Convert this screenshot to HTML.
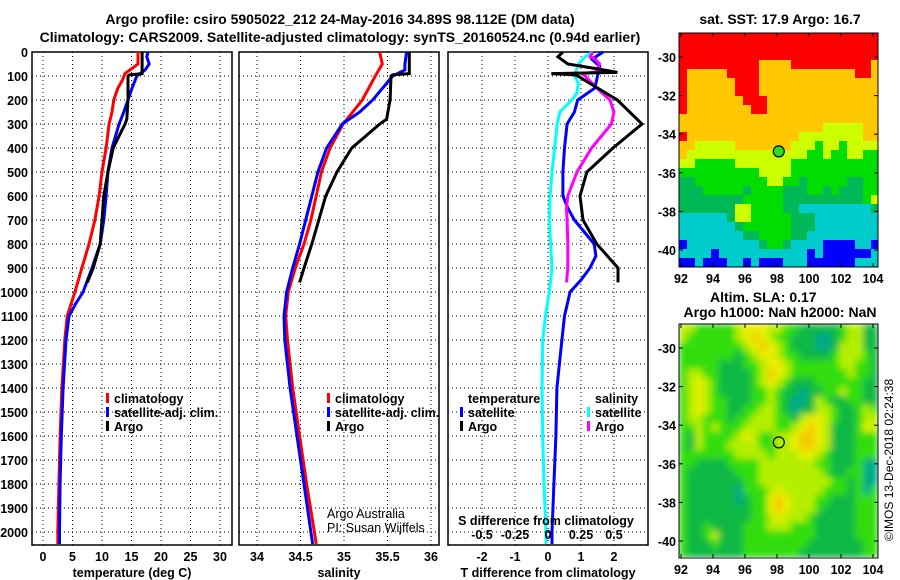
<!DOCTYPE html>
<html><head><meta charset="utf-8"><style>
body{margin:0;background:#fff}
svg{display:block;font-family:"Liberation Sans",sans-serif}
.b{font-weight:bold;font-size:12.5px}
.n{font-weight:normal;font-size:12.5px}
.t{font-weight:bold;font-size:14px}
</style></head><body>
<svg id="c" width="900" height="580" viewBox="0 0 900 580">
<text class="t" x="340" y="24" text-anchor="middle">Argo profile: csiro 5905022_212 24-May-2016 34.89S 98.112E (DM data)</text>
<text class="t" x="340" y="42" text-anchor="middle">Climatology: CARS2009. Satellite-adjusted climatology: synTS_20160524.nc (0.94d earlier)</text>
<text class="t" x="780" y="24" text-anchor="middle">sat. SST: 17.9 Argo: 16.7</text>
<text class="t" x="710" y="302">Altim. SLA: 0.17</text>
<text class="t" x="780" y="317" text-anchor="middle">Argo h1000: NaN h2000: NaN</text>
<text x="893" y="460" font-size="12" text-anchor="middle" transform="rotate(-90 893 460)">©IMOS 13-Dec-2018 02:24:38</text>
<defs><filter id="bl" x="0" y="0" width="1" height="1"><feGaussianBlur stdDeviation="3.5"/></filter>
<clipPath id="cp2"><rect x="679" y="324" width="199" height="233"/></clipPath></defs>
</svg>
<script>
// depth axis
const depthTicks=[0,100,200,300,400,500,600,700,800,900,1000,1100,1200,1300,1400,1500,1600,1700,1800,1900,2000];
// temperature panel
const tDepth=[0,50,90,120,150,200,250,300,400,500,600,700,800,900,1000,1100,1200,1400,1600,1800,2000,2050];
const tClim=[16.1,16.1,13.9,13.4,12.7,12,11.7,11.2,10.7,10,9.5,8.8,7.8,6.6,5.4,4.1,3.7,3.2,2.9,2.7,2.5,2.5];
const tSatDepth=[0,20,50,75,100,150,200,250,300,400,500,600,700,800,900,1000,1050,1100,1200,1400,1600,1800,2000,2050];
const tSat=[17.8,17.6,18,17.3,15.9,15.1,14.4,13.7,12.9,11.7,11,10.7,10.3,9.7,8.3,6.8,5.5,4.4,3.9,3.4,3.1,2.9,2.8,2.8];
const argoDepth=[0,90,95,100,200,280,300,350,400,500,600,700,800,900,960];
const tArgo=[16.8,16.8,14.7,14.4,14.4,14.2,13.9,12.9,11.9,11,10.3,10,9.7,8.5,7.5];
const tTicks=[0,5,10,15,20,25,30];
// salinity panel
const sDepth=[0,50,100,200,300,400,500,600,700,800,900,1000,1100,1200,1400,1600,1800,2000,2050];
const sClim=[35.41,35.44,35.36,35.21,34.99,34.84,34.74,34.68,34.62,34.54,34.44,34.36,34.33,34.35,34.41,34.49,34.57,34.66,34.68];
const sSatDepth=[0,50,75,100,200,250,300,400,500,600,700,800,900,1000,1100,1200,1400,1600,1800,2000,2050];
const sSat=[35.72,35.7,35.7,35.56,35.33,35.18,34.98,34.8,34.7,34.63,34.56,34.49,34.41,34.34,34.31,34.32,34.38,34.46,34.54,34.62,34.64];
const sArgo=[35.75,35.75,35.56,35.54,35.53,35.49,35.41,35.25,35.09,34.92,34.79,34.71,34.63,34.54,34.49];
const sTicks=[34,34.5,35,35.5,36];
// difference panel
const dTSatDepth=[0,30,60,100,150,200,250,300,400,500,600,650,700,800,850,900,950,1000,1100,1200,1400,1600,1800,2000,2050];
const dTSat=[1.67,1.33,1.57,1.5,1.42,0.9,0.8,0.58,0.5,0.45,0.45,0.6,0.8,1.4,1.45,1.27,1.0,0.67,0.5,0.42,0.27,0.24,0.18,0.12,0.12];
const dTArgoDepth=[0,20,50,75,85,90,95,100,150,200,300,400,500,600,700,800,900,960];
const dTArgo=[0.45,0.3,0.6,1.7,2.1,0.1,0.8,0.9,1.5,2.1,2.85,1.97,1.18,0.97,1.06,1.48,2.12,2.12];
const dSSatDepth=[0,20,50,100,130,170,200,250,300,400,500,600,700,800,900,1000,1100,1200,1400,1600,1800,2000,2050];
const dSSat=[0.34,0.28,0.23,0.2,0.23,0.22,0.18,0.09,0.07,0.05,0.03,0.015,0.01,0.02,0.03,0.01,-0.02,-0.04,-0.045,-0.04,-0.03,-0.015,-0.015];
const dSArgoDepth=[0,20,30,50,75,80,90,100,150,200,250,300,400,500,600,650,700,800,900,960];
const dSArgo=[0.34,0.32,0.36,0.39,0.37,0.41,0.26,0.28,0.37,0.47,0.5,0.48,0.33,0.22,0.15,0.14,0.145,0.15,0.15,0.14];
const dTTicks=[-2,-1,0,1,2];
const dSTicks=[-0.5,-0.25,0,0.25,0.5];
const dSTickLabels=['-0.5','-0.25','0','0.25','0.5'];
// maps
const latTicks=[-30,-32,-34,-36,-38,-40];
const lonTicks=[92,94,96,98,100,102,104];
const argoLon=98.112, argoLat=-34.89;
const sstRows=[
"RRRRRRRRRRRRRRRRRRRRRRRRR","RRRRRRRRRRRRRRRRRRRRRRRRR","RRRRRRRRRRRRRRRRRRRRRRRRR",
"RRRRRRRRRROOOORRRRRRRRRRO","ROOOOORRRROOOOOOOOOOOORRO","ROOOOOORRROOOOOOOOOOOOOOO",
"ROOOOOORRROOOOOOOOOOOOOOO","ROOOOOOORRROOOOOOOOOOOOOO","ROOOOOOOORROOOOOOOOOOOOOO",
"OOOOOOOOOOOOOOOOOOOOOOOOO","OOOOOOOOOOOOOOOOOOYYYYYOO","ROOOOOOOOOOOOOOYYYYYYYYOO",
"OOYYYYYOOOOOOOYYYGYYGYYYY","OYYYYYYYYYYYYYYYGGYGGYYGG","YYGGGGGYYYYYYYGGGGGGGGGGG",
"GGGGGGGGGGYYYYGGGGGGGGGGG","DDGGGGGGGGGYYGGDGGGGGDDGG","DDDGGGGGDGGGGDDDGGDGDDDGG",
"DDDDDDDDGGGGGDDDDDDDDDDGY","DDDDDDDYYGGGGDDCCCCCCCCCD","CCCCCCDYYGGGGGDDDCCCCCCCC",
"CCCCCCCDGGGGGGDDDCCCCCCCC","CCCCCCCCDDGGGGDDCCCCCCCCC","BCCCCCCCCCDGGDCCCCBBBBCCB",
"CCCCBCCCCCCCCCCCBCBBBBBBC","BBCBBBCCBCBBBCCCBBBBBBCCC"];
const slaRows=[
"LLGGGGGLYYYLLGGDDDDDGLLDD","LGGGGGGLYOYLGGDDDTTDGLLDD","GGGGGGGGLYOYLGDDDTTDLLLDD",
"GGGGGGGDGLYYLGGDDDDGLLLGD","GGGGGDDDGGLYYLGGGGGGLLGGD","GLLGGDDDDGLOYLGGGGGGGLGGD",
"GLYLGDDDDGLYLGDDDGGGGGGDD","GLYLGDDDDGGLGDDTDDGGLGGDD","GLYLGGDDDGGLGDTTDLGDDGGDD",
"GLYLGGDDGGLLGDTDDLLGDDGLG","GLLGGGDGGLLLGGDLYYLGDDGLL","GGLGLGGGLLLLGGLYOYLDDDGYL",
"GDLGGGGLYLGGLLYOOYLDDDGGG","GDLGGGLLLLGGLLYOOYLDDDGGG","GGGGGGGLLLLGLLLYYLGDDDGGG",
"GGDDDDGGGGLLLLLLLGGDDDGTT","GDDDDDDGGGLLLLLLLLGDDGGTT","GDDDDDDDGGLLLLLLLLLGGDGTT",
"GDDDDDDTGGGLYLLLLLGGGDGTG","GDDDDDDTDGGYOYLLLGGDDDGGG","GDDDDDDDDGGYOYLLLGDDDDGGG",
"GDDDDDDDDGGLYLLLGDDDDDGGG","GDDGDDDDGGGLLLGGGDDDDDGGG","GDDGLDDDGGGGGGGGGDDDDDGGG",
"GDDDGDDDGGGGGGGGDDDDDDDGG","GDDDDDDDGGGGGGGDDDDDDDDGG"];

const svg=document.getElementById('c');
const NS='http://www.w3.org/2000/svg';
function mk(tag,at,parent){const e=document.createElementNS(NS,tag);for(const k in at)e.setAttribute(k,at[k]);(parent||svg).appendChild(e);return e;}
const Y0=52,DY=0.24;
const yD=d=>Y0+DY*d;
const PB=545;
const panels=[
 {x0:32,x1:232,sx:v=>43+5.9*v,ticks:tTicks,labels:tTicks.map(String),title:'temperature (deg C)',name:'temperature-panel'},
 {x0:239,x1:439,sx:v=>257+87*(v-34),ticks:sTicks,labels:sTicks.map(String),title:'salinity',name:'salinity-panel'},
 {x0:448,x1:648,sx:v=>548+33*v,ticks:dTTicks,labels:dTTicks.map(String),title:'T difference from climatology',name:'difference-panel'}];
panels.forEach((p,pi)=>{
  const g=mk('g',{});
  
  
  mk('rect',{x:p.x0,y:Y0,width:p.x1-p.x0,height:PB-Y0,fill:'#fff'},g);
  depthTicks.forEach(d=>{
    const l=mk('line',{x1:p.x0,x2:p.x1,y1:yD(d),y2:yD(d),stroke:'#000','stroke-width':1,'stroke-dasharray':'1,3'},g);
    
    
    if(pi===0){const t=mk('text',{x:28,y:yD(d)+5,'text-anchor':'end',class:'b'},g);t.textContent=d;
      
      }
  });
  p.ticks.forEach((v,i)=>{
    const x=p.sx(v);
    mk('line',{x1:x,x2:x,y1:Y0,y2:PB,stroke:'#000','stroke-width':1,'stroke-dasharray':'1,3'},g);
    const t=mk('text',{x:x,y:561,'text-anchor':'middle',class:'b'},g);t.textContent=p.labels[i];
    
    
  });
  mk('rect',{x:p.x0,y:Y0,width:p.x1-p.x0,height:PB-Y0,fill:'none',stroke:'#000','stroke-width':1.5},g);
  const tt=mk('text',{x:(p.x0+p.x1)/2,y:577,'text-anchor':'middle',class:'b'},g);tt.textContent=p.title;
  
  
});
function line(ds,vs,sx,color,name){
  const pts=ds.map((d,i)=>sx(vs[i]).toFixed(1)+','+yD(d).toFixed(1)).join(' ');
  const e=mk('polyline',{points:pts,fill:'none',stroke:color,'stroke-width':3,'stroke-linejoin':'miter'});
  
  
}
const P=panels;
line(tDepth,tClim,P[0].sx,'#ff0000','temp-climatology-line');
line(tSatDepth,tSat,P[0].sx,'#0000ff','temp-satellite-line');
line(argoDepth,tArgo,P[0].sx,'#000','temp-argo-line');
line(sDepth,sClim,P[1].sx,'#ff0000','sal-climatology-line');
line(sSatDepth,sSat,P[1].sx,'#0000ff','sal-satellite-line');
line(argoDepth,sArgo,P[1].sx,'#000','sal-argo-line');
const sxS=v=>548+132*v;
line(dSSatDepth,dSSat,sxS,'#00ffff','dsal-satellite-line');
line(dTSatDepth,dTSat,P[2].sx,'#0000ff','dtemp-satellite-line');
line(dSArgoDepth,dSArgo,sxS,'#ff00ff','dsal-argo-line');
line(dTArgoDepth,dTArgo,P[2].sx,'#000','dtemp-argo-line');
// S tick labels
dSTicks.forEach((v,i)=>{const t=mk('text',{x:sxS(v),y:539,'text-anchor':'middle',class:'b'});t.textContent=dSTickLabels[i];
  
  });
function txt(x,y,s,cls,name,anchor){const t=mk('text',{x:x,y:y,class:cls,'text-anchor':anchor||'start'});t.textContent=s;
  
  return t;}
txt(546,525,'S difference from climatology','b','s-diff-axis-title','middle');
txt(327,518,'Argo Australia','n','credit-line-1');
txt(327,532,'PI: Susan Wijffels','n','credit-line-2');
function leg(x,y,color,label,name){
  const g=mk('g',{});
  
  
  mk('rect',{x:x,y:y-10,width:3,height:10,fill:color},g);
  const t=mk('text',{x:x+8,y:y,class:'b'},g);t.textContent=label;
}
leg(106,403,'#ff0000','climatology','legend-climatology');
leg(106,417,'#0000ff','satellite-adj. clim.','legend-satellite-adj');
leg(106,431,'#000','Argo','legend-argo');
leg(327,403,'#ff0000','climatology','legend-climatology-sal');
leg(327,417,'#0000ff','satellite-adj. clim.','legend-satellite-adj-sal');
leg(327,431,'#000','Argo','legend-argo-sal');
txt(468,403,'temperature','b','legend-temperature-header');
leg(460,417,'#0000ff','satellite','legend-t-satellite');
leg(460,431,'#000','Argo','legend-t-argo');
txt(595,403,'salinity','b','legend-salinity-header');
leg(587,417,'#00ffff','satellite','legend-s-satellite');
leg(587,431,'#ff00ff','Argo','legend-s-argo');

// maps
const MX0=679,MW=199,CW=8,CH=9;
const lonX=lo=>681+16*(lo-92);
const sstCol={R:'#ff0000',O:'#ffc800',Y:'#ccff00',G:'#00dd00',D:'#00b855',C:'#00cccc',B:'#0000ff'};
const slaCol={G:'#33dd11',L:'#b4ee00',Y:'#eaee00',O:'#f2cc00',D:'#11b844',T:'#00aa88'};
function drawMap(y0,rows,cols,name,blur){
  const latY=la=>y0+24+19.3*(-30-la);
  const g=mk('g',{});
  
  
  const cg=mk('g',blur?{filter:'url(#bl)'}:{},blur?mk('g',{'clip-path':'url(#cp2)'},g):g);
  rows.forEach((r,i)=>{[...r].forEach((ch,j)=>{
    const w=Math.min(CW,MX0+MW-(MX0+j*CW)), h=Math.min(CH,234-i*CH);
    mk('rect',{x:MX0+j*CW,y:y0+i*CH,width:w+(blur?0:0.3),height:h+(blur?0:0.3),fill:cols[ch]},cg);
  });});
  mk('rect',{x:MX0,y:y0,width:MW,height:234,fill:'none',stroke:'#000','stroke-width':1},g);
  latTicks.forEach(la=>{const y=latY(la);
    mk('line',{x1:MX0,x2:MX0+4,y1:y,y2:y,stroke:'#000'},g);
    mk('line',{x1:MX0+MW-4,x2:MX0+MW,y1:y,y2:y,stroke:'#000'},g);
    const t=mk('text',{x:676,y:y+5,'text-anchor':'end',class:'b'},g);t.textContent=la;
    
    });
  lonTicks.forEach(lo=>{const x=lonX(lo);
    mk('line',{x1:x,x2:x,y1:y0,y2:y0+4,stroke:'#000'},g);
    mk('line',{x1:x,x2:x,y1:y0+230,y2:y0+234,stroke:'#000'},g);
    const t=mk('text',{x:x,y:y0+250,'text-anchor':'middle',class:'b'},g);t.textContent=lo;
    
    });
  const m=mk('circle',{cx:lonX(argoLon),cy:latY(argoLat),r:5.5,fill:blur?'none':'#33dd22',stroke:'#000','stroke-width':1.2},g);
  
  
}
drawMap(33,sstRows,sstCol,'sst-map',false);
drawMap(324,slaRows,slaCol,'sla-map',true);
</script>
</body></html>
